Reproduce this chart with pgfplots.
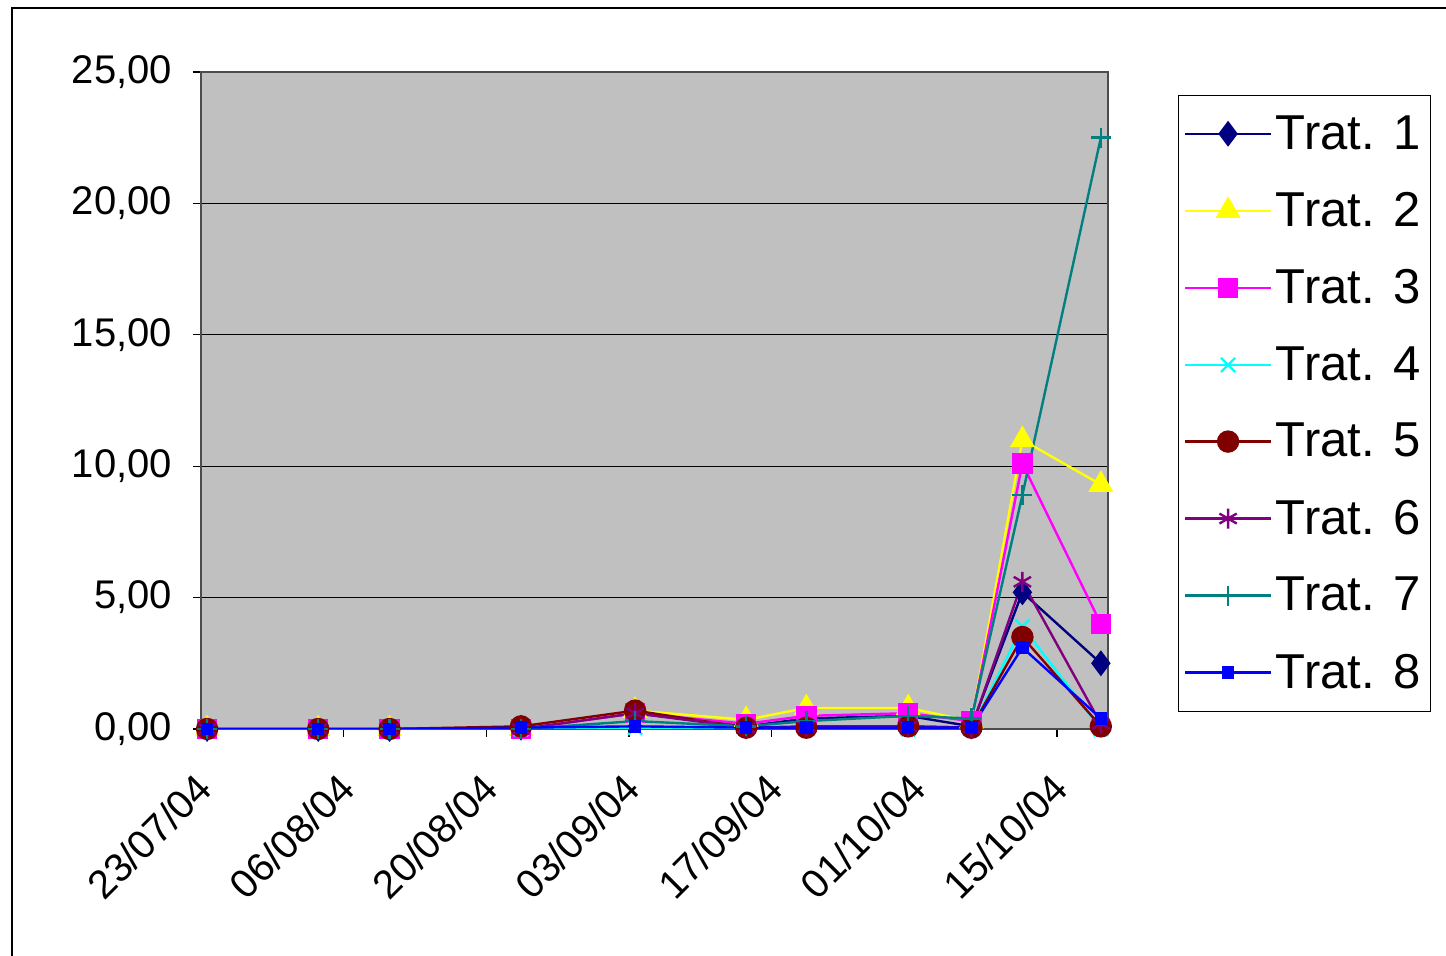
\documentclass[border=0pt]{standalone}
\usepackage{pgfplots}
\pgfplotsset{compat=1.18}
\usepackage{fontspec}
\setmainfont{Liberation Sans}
\definecolor{bgc}{RGB}{192,192,192}
\definecolor{t1}{RGB}{0,0,128}
\definecolor{t2}{RGB}{255,255,0}
\definecolor{t3}{RGB}{255,0,255}
\definecolor{t4}{RGB}{0,255,255}
\definecolor{t5}{RGB}{128,0,0}
\definecolor{t6}{RGB}{128,0,128}
\definecolor{t7}{RGB}{0,128,128}
\definecolor{t8}{RGB}{0,0,255}
\begin{document}
\begin{tikzpicture}
\useasboundingbox (-100.5pt,-113.5pt) rectangle (622.5pt,364.5pt);
\draw[black,line width=0.8pt] (-94.5pt,-114pt) -- (-94.5pt,360.5pt) -- (623pt,360.5pt);
\begin{axis}[at={(0,0)},anchor=origin,scale only axis,width=453.5pt,height=328.5pt,
 xmin=0,xmax=89,ymin=0,ymax=25,
 axis background/.style={fill=bgc},
 axis line style={gray!60!black,line width=1pt},
 ymajorgrids, grid style={black,line width=0.6pt},
 ytick={0,5,...,25}, yticklabels={{0,00},{5,00},{10,00},{15,00},{20,00},{25,00}},
 xtick={0,14,...,84}, xticklabels={23/07/04,06/08/04,20/08/04,03/09/04,17/09/04,01/10/04,15/10/04},
 x tick label style={rotate=45,anchor=north east,xshift=-11pt,yshift=-6pt,font=\fontsize{20}{22}\selectfont},
 y tick label style={xshift=-7pt,font=\fontsize{20}{22}\selectfont},
 tick align=outside, tick style={black,line width=0.6pt}, major tick length=4pt,
 xtick pos=bottom, ytick pos=left,
 legend cell align=left,
 legend image code/.code={\draw[mark repeat=2,mark phase=2,line width=1.2pt,#1] plot coordinates {(0.2cm,0cm)(0.95cm,0cm)(1.7cm,0cm)};},
 legend style={at={(1.077,0.965)},anchor=north west,draw=black,fill=white,
  font=\fontsize{24.5}{28}\selectfont,row sep=16pt,inner xsep=3pt,inner ysep=8pt},
 every axis plot/.append style={line width=1.2pt},
]
\addplot[t1,mark=diamond*,mark size=5.5pt] coordinates {(0.6,0)(11.5,0)(18.5,0)(31.4,0.05)(42.6,0.6)(53.5,0.1)(59.4,0.4)(69.4,0.5)(75.6,0.1)(80.6,5.2)(88.3,2.5)};
\addlegendentry{Trat. 1}
\addplot[t2,mark=triangle*,mark size=6pt] coordinates {(0.6,0)(11.5,0)(18.5,0)(31.4,0)(42.6,0.7)(53.5,0.35)(59.4,0.8)(69.4,0.8)(75.6,0.3)(80.6,11.0)(88.3,9.3)};
\addlegendentry{Trat. 2}
\addplot[t3,mark=square*,mark size=4.5pt] coordinates {(0.6,0)(11.5,0)(18.5,0)(31.4,0)(42.6,0.6)(53.5,0.2)(59.4,0.5)(69.4,0.6)(75.6,0.3)(80.6,10.1)(88.3,4.0)};
\addlegendentry{Trat. 3}
\addplot[t4,mark=x,mark size=5pt] coordinates {(0.6,0)(11.5,0)(18.5,0)(31.4,0)(42.6,0.05)(53.5,0)(59.4,0.05)(69.4,0)(75.6,0)(80.6,3.9)(88.3,0)};
\addlegendentry{Trat. 4}
\addplot[t5,mark=*,mark size=5pt] coordinates {(0.6,0)(11.5,0)(18.5,0)(31.4,0.1)(42.6,0.7)(53.5,0.05)(59.4,0.05)(69.4,0.1)(75.6,0.05)(80.6,3.5)(88.3,0.1)};
\addlegendentry{Trat. 5}
\addplot[t6,mark=asterisk,mark size=5pt] coordinates {(0.6,0)(11.5,0)(18.5,0)(31.4,0)(42.6,0.6)(53.5,0.05)(59.4,0.1)(69.4,0.1)(75.6,0.05)(80.6,5.6)(88.3,0.2)};
\addlegendentry{Trat. 6}
\addplot[t7,mark=+,mark size=5pt] coordinates {(0.6,0)(11.5,0)(18.5,0)(31.4,0)(42.6,0.3)(53.5,0.1)(59.4,0.3)(69.4,0.5)(75.6,0.4)(80.6,8.9)(88.3,22.5)};
\addlegendentry{Trat. 7}
\addplot[t8,mark=square*,mark size=2.5pt] coordinates {(0.6,0)(11.5,0)(18.5,0)(31.4,0.05)(42.6,0.1)(53.5,0.05)(59.4,0.05)(69.4,0.05)(75.6,0.05)(80.6,3.1)(88.3,0.4)};
\addlegendentry{Trat. 8}
\end{axis}
\end{tikzpicture}
\end{document}
